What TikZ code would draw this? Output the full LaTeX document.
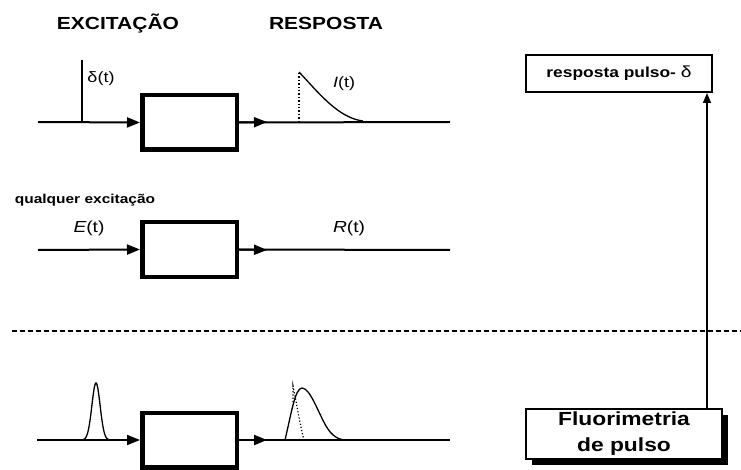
\documentclass[tikz,border=0pt]{standalone}
\usepackage{fontspec}
\setmainfont{Liberation Sans}[FakeStretch=1.2]
\usetikzlibrary{arrows.meta,shadows}

\begin{document}
\begin{tikzpicture}[x=1pt,y=-1pt,
  sig/.style={line width=2pt},
  thinsig/.style={line width=1.3pt},
  sysbox/.style={draw, line width=4.5pt, minimum width=94.5pt, minimum height=54.5pt, inner sep=0pt},
  tip/.style={-{Triangle[length=13pt,width=10pt]}},
  smalltip/.style={-{Triangle[length=10pt,width=8pt]}},
  head/.style={font=\fontsize{17.5}{20}\selectfont\bfseries, anchor=base},
  lbl/.style={font=\fontsize{16}{18}\selectfont},
  slbl/.style={font=\fontsize{15}{17}\selectfont},
]
\useasboundingbox (0,0) rectangle (741,470);

% column headings
\node[head] (hexc) at (118,30) {EXCITAÇÃO};
\node[head] (hres) at (326,30) {RESPOSTA};

% ---------- row 1: delta excitation ----------
\node[sysbox] (b1) at (189.5,122.5) {};
\coordinate (in1) at (38,122);
\coordinate (m1) at (267,122);
\coordinate (out1) at (450,122);
\draw[sig,tip] (in1) -- (b1.west);
\draw[sig] (b1.east) -- (out1);
\draw[sig,tip] (b1.east) -- (m1);
% impulse
\draw[sig] (82,122) -- (82,60);
\node[slbl] (dlt) at (101,79) {δ(t)};
% decay response
\draw[line width=1.4pt, dotted] (299,122) -- (299,72);
\draw[thinsig] (299,72) .. controls (318,92) and (338,118) .. (363,121);
\node[slbl] (It) at (344,84) {\itshape I\upshape(t)};

% ---------- row 2: arbitrary excitation ----------
\node[font=\fontsize{12.9}{15}\selectfont\bfseries, anchor=base] (any) at (85,204) {qualquer excitação};
\node[sysbox] (b2) at (189.5,249.5) {};
\coordinate (in2) at (38,250);
\coordinate (m2) at (267,250);
\coordinate (out2) at (450,250);
\draw[sig,tip] (in2) -- (b2.west);
\draw[sig] (b2.east) -- (out2);
\draw[sig,tip] (b2.east) -- (m2);
\node[lbl] (Et) at (89,228) {\itshape E\upshape(t)};
\node[lbl] (Rt) at (349,228) {\itshape R\upshape(t)};

% separator
\coordinate (sepL) at (12,331);
\coordinate (sepR) at (741,331);
\draw[line width=1.2pt, dash pattern=on 5pt off 3pt] (sepL) -- (sepR);

% ---------- row 3: pulse fluorometry ----------
\node[sysbox] (b3) at (189.5,440) {};
\coordinate (in3) at (37,440);
\coordinate (m3) at (267,440);
\coordinate (out3) at (450,440);
\draw[sig,tip] (in3) -- (b3.west);
\draw[sig] (b3.east) -- (out3);
\draw[sig,tip] (b3.east) -- (m3);
% gaussian excitation pulse
\draw[thinsig] plot[domain=83:109, samples=60, smooth] (\x, {440 - 57*exp(-((\x-96)*(\x-96))/(2*4.1*4.1))});
% convolved response
\draw[thinsig] (285,440) .. controls (291,415) and (295,388) .. (302,388)
  .. controls (310,388) and (318,412) .. (326,426)
  .. controls (332,436) and (338,440) .. (347,440);
\draw[line width=1.2pt, dotted] (293,402) -- (293,386) .. controls (296,400) and (300,425) .. (304,440);

% ---------- right column ----------
\node[draw, line width=2pt, minimum width=186pt, minimum height=37pt, inner sep=0pt] (rp) at (619,73.5)
  {\fontsize{14.5}{17}\selectfont\bfseries resposta pulso-\ \mdseries\fontsize{16}{17}\selectfont δ};
\node[draw, line width=2pt, fill=white, minimum width=196pt, minimum height=50pt, inner sep=0pt,
  align=center, font=\fontsize{19}{26}\selectfont\bfseries,
  drop shadow={shadow xshift=6pt, shadow yshift=-6pt, fill=black, opacity=1}] (fl) at (624,434)
  {Fluorimetria\\de pulso};
\coordinate (upx) at (707,0);
\draw[line width=1.5pt, smalltip] (upx |- fl.north) -- (upx |- rp.south);
\end{tikzpicture}
\end{document}
